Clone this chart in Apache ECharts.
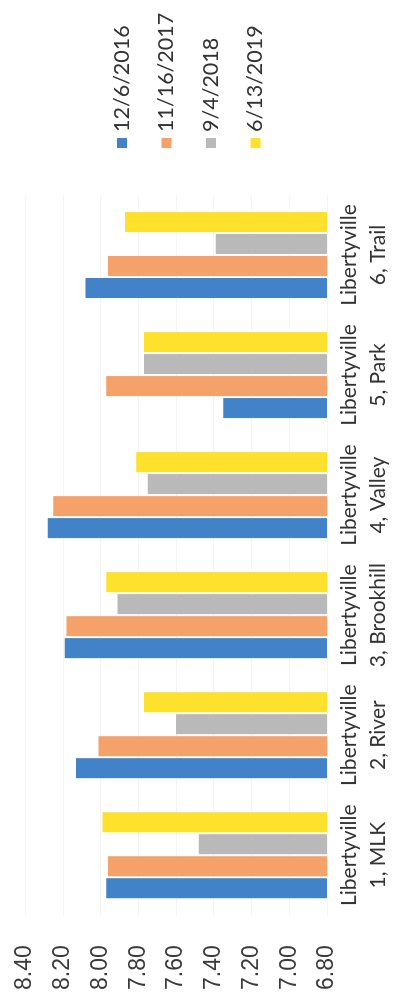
<!DOCTYPE html>
<html>
<head>
<meta charset="utf-8">
<script src="https://cdn.jsdelivr.net/npm/echarts@6/dist/echarts.min.js"></script>
<style>
  html, body { margin: 0; padding: 0; background: #ffffff; overflow: hidden; width: 409px; height: 993px; }
  #chart { position: absolute; left: 0; top: 993px; width: 993px; height: 409px;
           transform-origin: 0 0; transform: rotate(-90deg); }
</style>
</head>
<body>
<div id="chart"></div>
<script>
// Data read from the (rotated) reference picture
const categories = [
  "Libertyville\n1, MLK",
  "Libertyville\n2, River",
  "Libertyville\n3, Brookhill",
  "Libertyville\n4, Valley",
  "Libertyville\n5, Park",
  "Libertyville\n6, Trail"
];
const seriesNames = ["12/6/2016", "11/16/2017", "9/4/2018", "6/13/2019"];
const values2016 = [7.97, 8.13, 8.19, 8.28, 7.35, 8.08];
const values2017 = [7.96, 8.01, 8.18, 8.25, 7.97, 7.96];
const values2018 = [7.48, 7.60, 7.91, 7.75, 7.77, 7.39];
const values2019 = [7.99, 7.77, 7.97, 7.81, 7.77, 7.87];
const valueMin = 6.8, valueMax = 8.4, valueStep = 0.2;

const colors = ["#4182c8", "#f5a16a", "#b9b9b9", "#fde12c"];
const seriesValues = [values2016, values2017, values2018, values2019];

const chart = echarts.init(document.getElementById('chart'), null, { renderer: 'canvas' });
chart.setOption({
  animation: false,
  backgroundColor: '#ffffff',
  color: colors,
  grid: { left: 76, right: 195, top: 25, bottom: 82, containLabel: false },
  legend: {
    orient: 'vertical',
    left: 840,
    top: 105,
    icon: 'rect',
    itemWidth: 10,
    itemHeight: 10,
    itemGap: 20.5,
    data: seriesNames,
    textStyle: { fontFamily: 'Lato', fontSize: 21.5, lineHeight: 24, color: '#333333', padding: [0, 0, 0, 1] }
  },
  xAxis: {
    type: 'category',
    data: categories,
    axisLine: { show: false },
    axisTick: { show: false },
    axisLabel: { fontFamily: 'Lato', fontSize: 21, lineHeight: 29, color: '#333333', margin: 8, interval: 0 }
  },
  yAxis: {
    type: 'value',
    min: valueMin,
    max: valueMax,
    interval: valueStep,
    axisLine: { show: false },
    axisTick: { show: false },
    splitLine: { lineStyle: { color: '#f5f5f5', width: 1 } },
    axisLabel: {
      fontFamily: 'Liberation Sans', fontSize: 23, color: '#3a3a3a', margin: 30,
      formatter: v => v.toFixed(2)
    }
  },
  series: seriesNames.map((name, i) => ({
    name: name,
    type: 'bar',
    data: seriesValues[i],
    barWidth: 20,
    barGap: '10%',
    itemStyle: { color: colors[i] }
  }))
});
</script>
</body>
</html>
